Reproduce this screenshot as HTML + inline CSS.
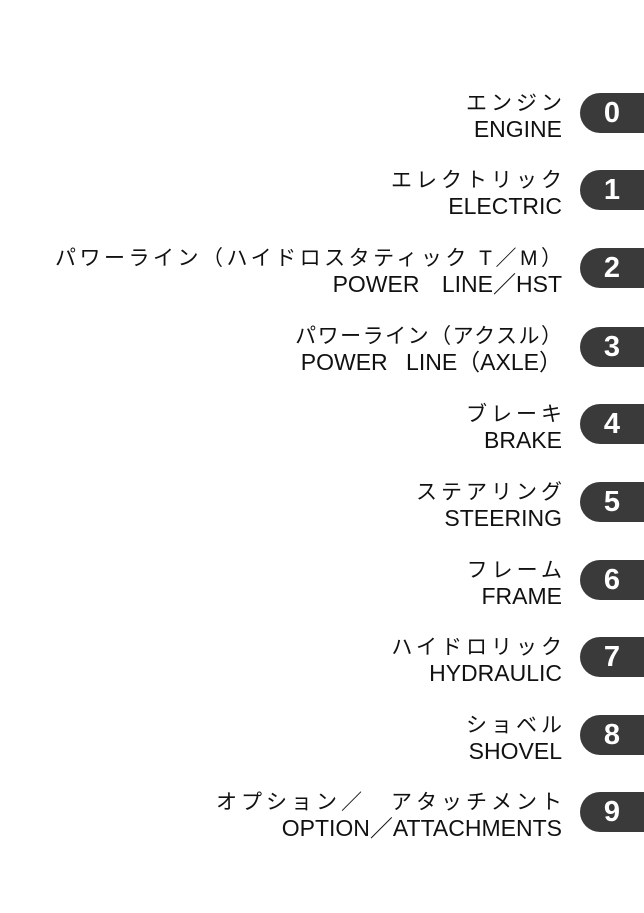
<!DOCTYPE html>
<html><head><meta charset="utf-8"><style>
body{margin:0;width:644px;height:913px;background:#fff;position:relative;overflow:hidden;font-family:"Liberation Sans","Noto Sans CJK JP",sans-serif;color:#111}
.r{position:absolute;right:82px;text-align:right;white-space:nowrap}
.j{font-size:21px;line-height:25px;letter-spacing:4px;margin-right:-4px}
.e{font-size:23px;line-height:27px}
.t{position:absolute;left:580px;width:80px;height:40px;border-radius:20px 0 0 20px;background:#3a3a3a}
.t span{position:absolute;left:14px;width:36px;top:3px;text-align:center;color:#fff;font-weight:bold;font-size:29px;line-height:34px}
</style></head><body>
<div class="r" style="top:91px"><div class="j">エンジン</div><div class="e">ENGINE</div></div>
<div class="t" style="top:93px"><span>0</span></div>
<div class="r" style="top:168px"><div class="j">エレクトリック</div><div class="e">ELECTRIC</div></div>
<div class="t" style="top:170px"><span>1</span></div>
<div class="r" style="top:246px"><div class="j" style="letter-spacing:3.5px;margin-right:-3.5px">パワーライン（ハイドロスタティック T／M）</div><div class="e" style="word-spacing:16px">POWER LINE／HST</div></div>
<div class="t" style="top:248px"><span>2</span></div>
<div class="r" style="top:324px"><div class="j" style="letter-spacing:1.5px;margin-right:-1.5px">パワーライン（アクスル）</div><div class="e" style="word-spacing:12px">POWER LINE（AXLE）</div></div>
<div class="t" style="top:327px"><span>3</span></div>
<div class="r" style="top:402px"><div class="j">ブレーキ</div><div class="e">BRAKE</div></div>
<div class="t" style="top:404px"><span>4</span></div>
<div class="r" style="top:480px"><div class="j">ステアリング</div><div class="e">STEERING</div></div>
<div class="t" style="top:482px"><span>5</span></div>
<div class="r" style="top:558px"><div class="j">フレーム</div><div class="e">FRAME</div></div>
<div class="t" style="top:560px"><span>6</span></div>
<div class="r" style="top:635px"><div class="j">ハイドロリック</div><div class="e">HYDRAULIC</div></div>
<div class="t" style="top:637px"><span>7</span></div>
<div class="r" style="top:713px"><div class="j">ショベル</div><div class="e">SHOVEL</div></div>
<div class="t" style="top:715px"><span>8</span></div>
<div class="r" style="top:790px"><div class="j">オプション／　アタッチメント</div><div class="e">OPTION／ATTACHMENTS</div></div>
<div class="t" style="top:792px"><span>9</span></div>
</body></html>
